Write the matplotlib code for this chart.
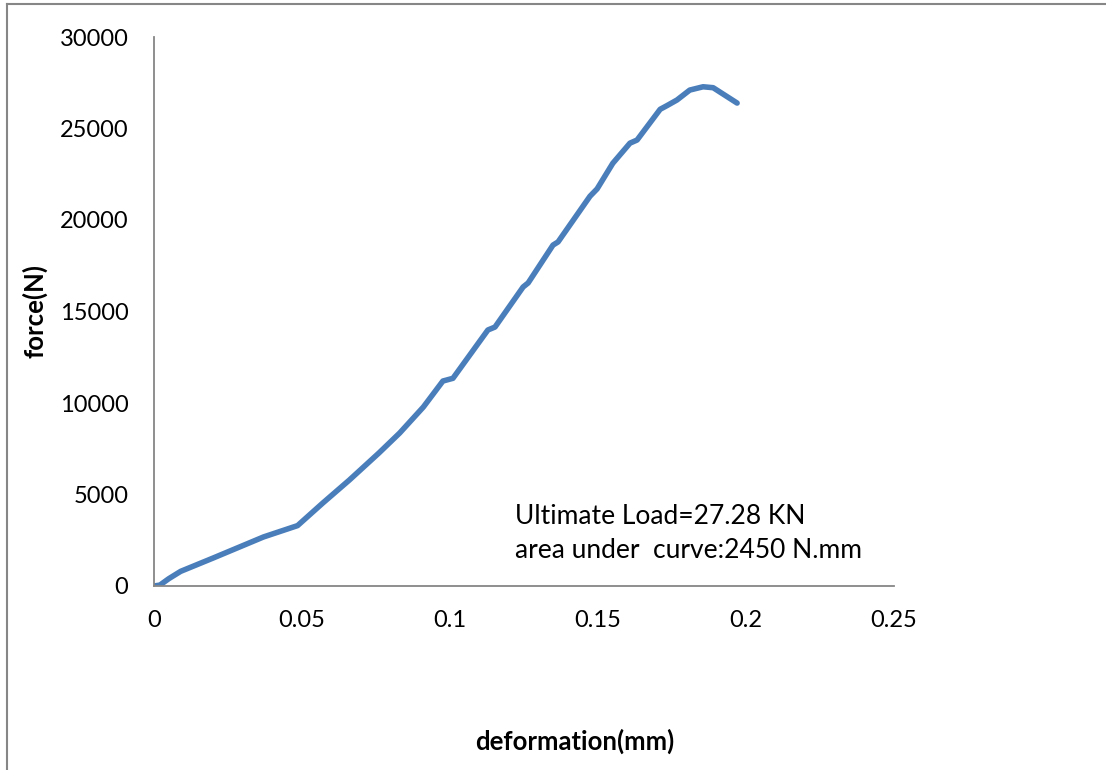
import matplotlib
matplotlib.use("Agg")
import matplotlib.pyplot as plt
from matplotlib.lines import Line2D

# Load-deformation test record
deformation_mm = [0, 0.002, 0.005, 0.009, 0.020, 0.037, 0.0485, 0.057, 0.066, 0.076,
                  0.083, 0.091, 0.0976, 0.101, 0.1128, 0.1152, 0.1247, 0.1264,
                  0.1348, 0.1365, 0.1473, 0.1497, 0.155, 0.1608, 0.1632, 0.171, 0.1733,
                  0.1767, 0.181, 0.1855, 0.1889, 0.197]
force_N = [0, 50, 400, 800, 1530, 2680, 3300, 4530, 5790, 7270,
           8360, 9780, 11200, 11350, 13990, 14150, 16340, 16560,
           18630, 18800, 21300, 21700, 23100, 24200, 24370, 26050, 26250,
           26560, 27100, 27280, 27230, 26390]

x_ticks = [0, 0.05, 0.1, 0.15, 0.2, 0.25]
x_tick_labels = ["0", "0.05", "0.1", "0.15", "0.2", "0.25"]
y_ticks = [0, 5000, 10000, 15000, 20000, 25000, 30000]
y_tick_labels = ["0", "5000", "10000", "15000", "20000", "25000", "30000"]

note_lines = ["Ultimate Load=27.28 KN", "area under  curve:2450 N.mm"]

plt.rcParams["font.family"] = ["Lato", "DejaVu Sans"]

W, H = 1106, 770
fig = plt.figure(figsize=(W / 100, H / 100), dpi=100)
fig.patch.set_facecolor("white")

ax = fig.add_axes([154 / W, 1 - 586 / H, (894 - 154) / W, (586 - 37) / H])
ax.plot(deformation_mm, force_N, color="#4a7ebb", lw=4.0, solid_capstyle="round",
        solid_joinstyle="round")

ax.set_xlim(0, 0.25)
ax.set_ylim(0, 30000)
ax.set_xticks(x_ticks)
ax.set_xticklabels(x_tick_labels)
ax.set_yticks(y_ticks)
ax.set_yticklabels(y_tick_labels)
ax.tick_params(axis="both", length=0, labelsize=17, colors="black")
ax.tick_params(axis="x", pad=17)
ax.tick_params(axis="y", pad=18.5)

for side in ("top", "right"):
    ax.spines[side].set_visible(False)
for side in ("left", "bottom"):
    ax.spines[side].set_color("#868686")
    ax.spines[side].set_linewidth(1.3)

ax.set_xlabel("deformation(mm)", fontsize=18.5, fontweight="bold")
ax.xaxis.set_label_coords((575 - 154) / (894 - 154), -(729 - 586) / (586 - 37))
ax.set_ylabel("force(N)", fontsize=18.5, fontweight="bold")
ax.yaxis.set_label_coords(-(154 - 47) / (894 - 154), (586 - 311) / (586 - 37))

fig.text(515 / W, 1 - 516 / H, note_lines[0], fontsize=19, va="center", ha="left")
fig.text(515 / W, 1 - 550 / H, note_lines[1], fontsize=19, va="center", ha="left")

# chart-area frame
fig.add_artist(Line2D([7 / W, 1.0], [1 - 4 / H, 1 - 4 / H], transform=fig.transFigure,
                      color="#868686", lw=1.5))
fig.add_artist(Line2D([7 / W, 7 / W], [0.0, 1 - 4 / H], transform=fig.transFigure,
                      color="#868686", lw=1.5))

fig.savefig("out.png", dpi=100, facecolor="white")
